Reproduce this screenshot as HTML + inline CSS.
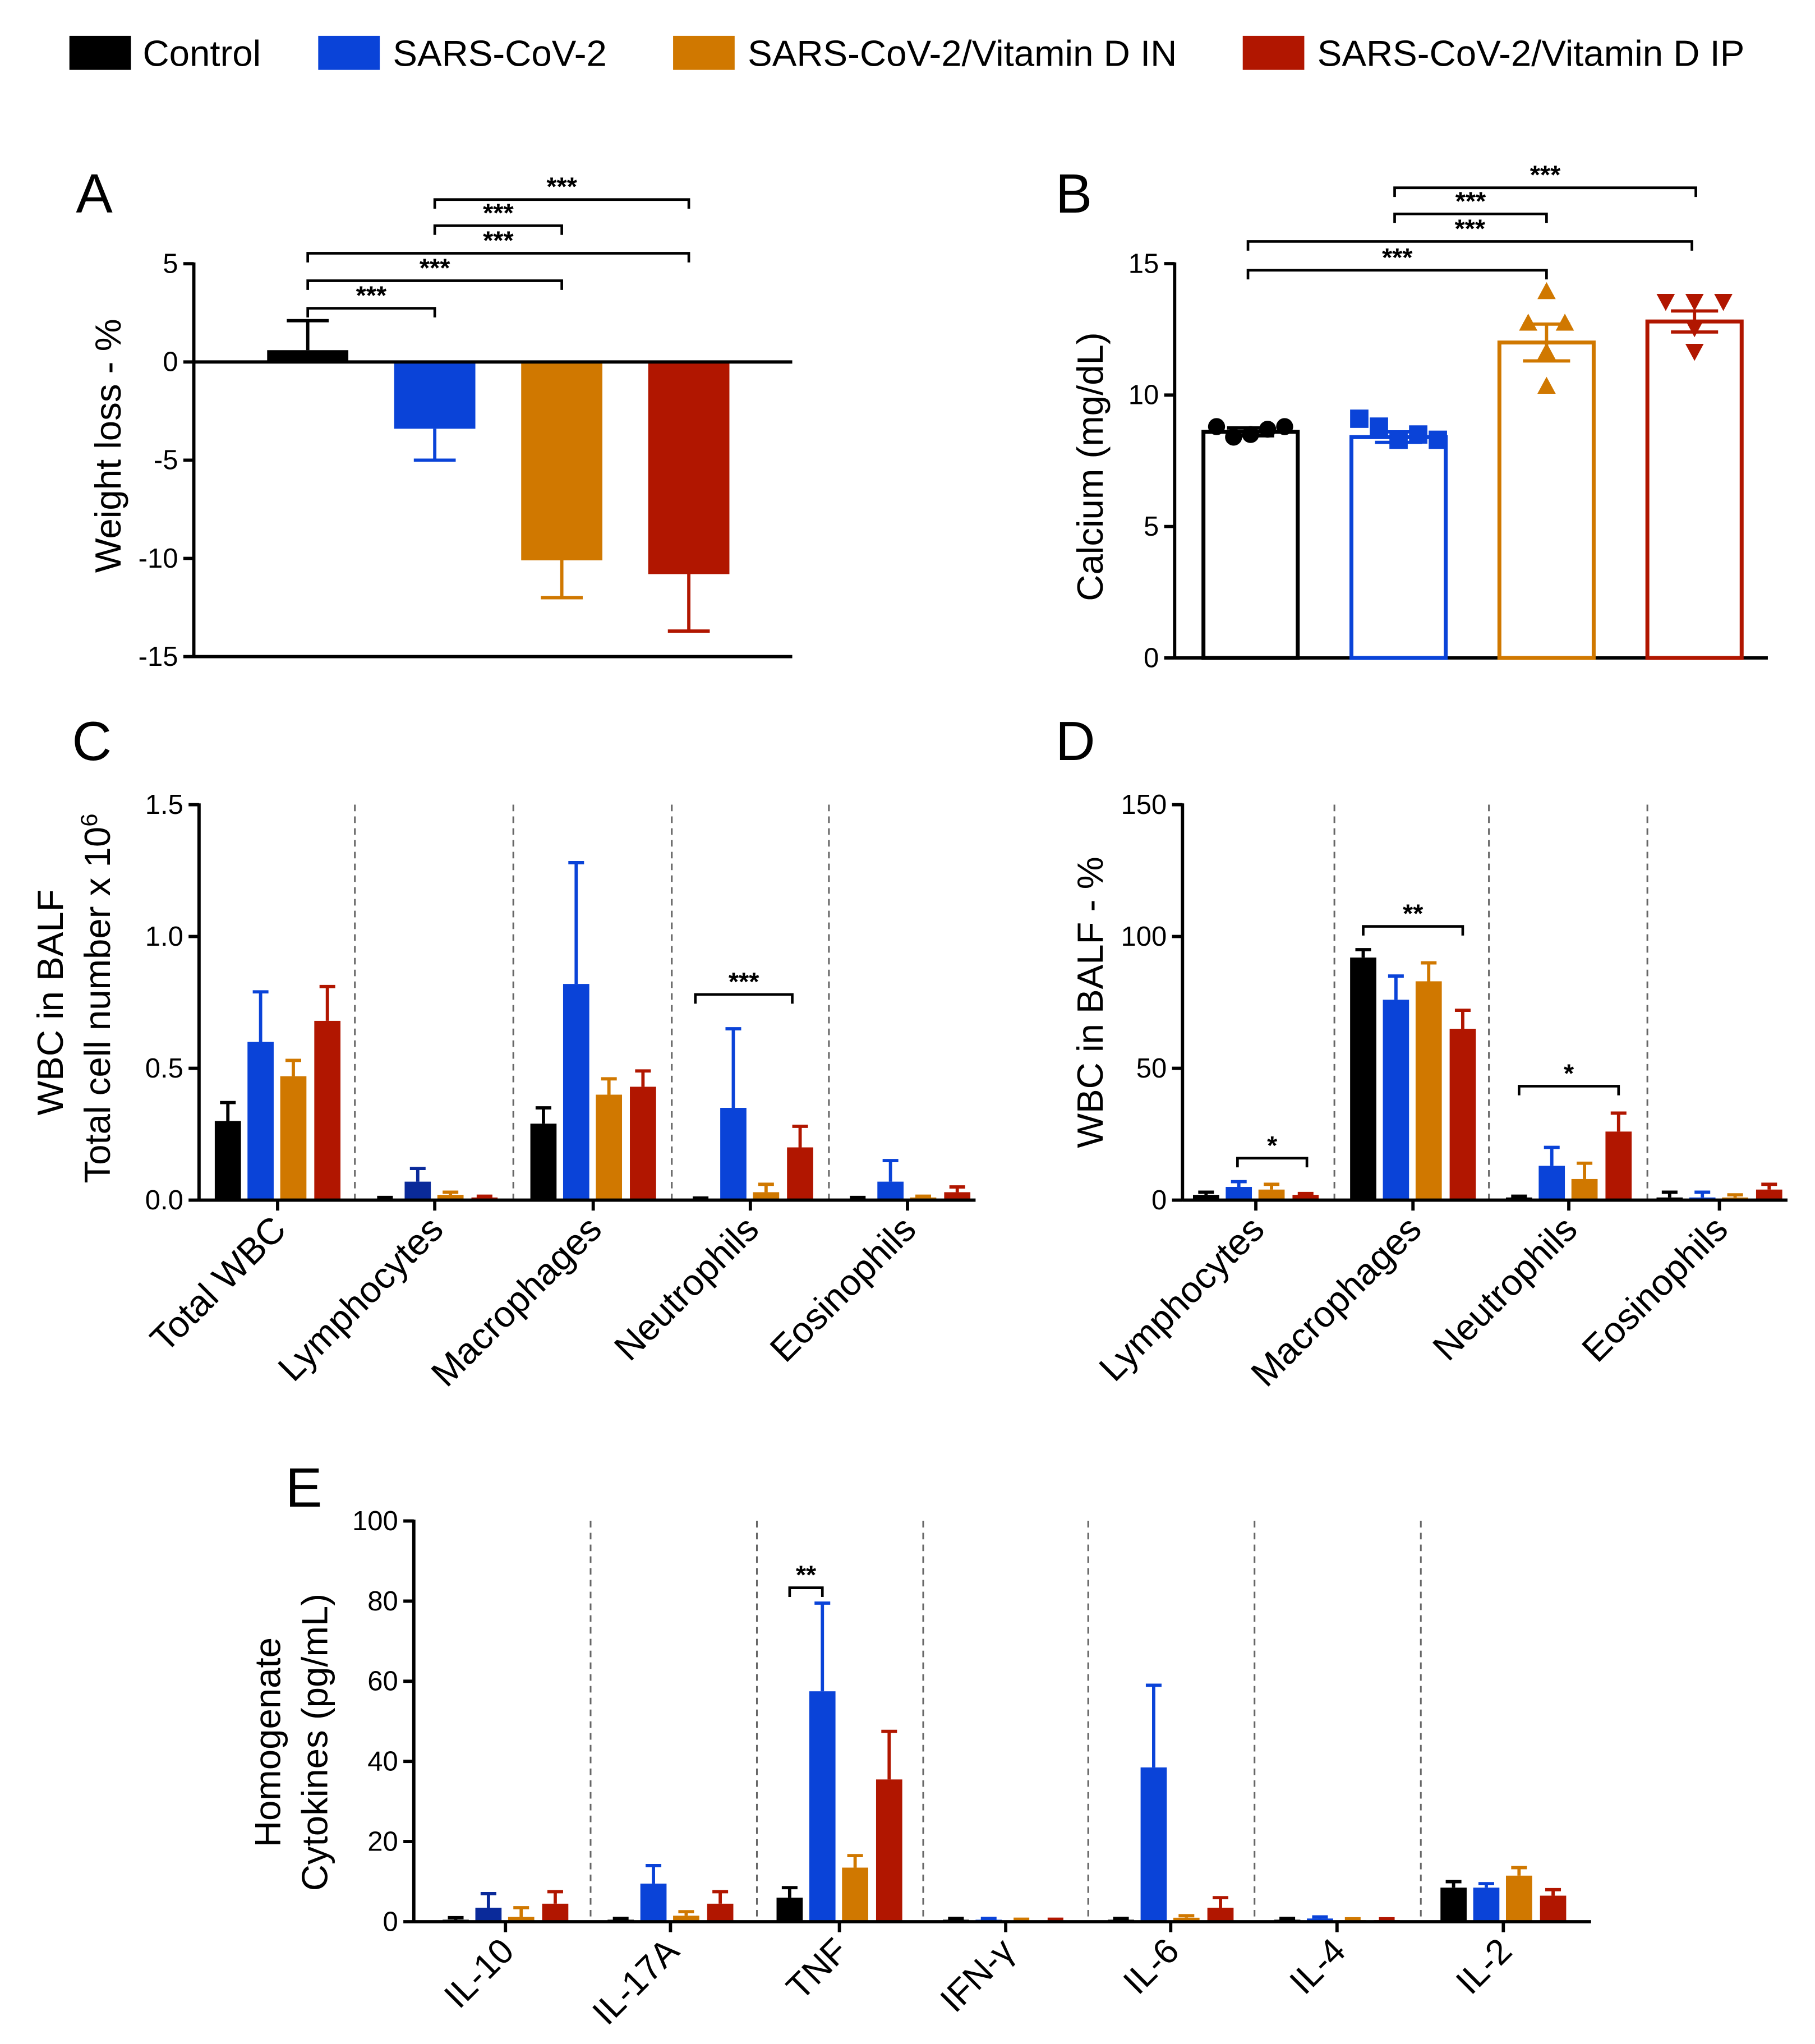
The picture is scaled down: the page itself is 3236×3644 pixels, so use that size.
<!DOCTYPE html>
<html><head><meta charset="utf-8"><style>
html,body{margin:0;padding:0;background:#fff}
svg{display:block}
text{font-family:"Liberation Sans",Arial,sans-serif}
</style></head><body>
<svg id="fig" xmlns="http://www.w3.org/2000/svg" width="3236" height="3644" viewBox="0 0 1386 1560">
<rect width="1386" height="1560" fill="#fff"/>
<g>
 <g><rect x="53" y="27" width="47" height="26" fill="#000"/><text x="109" y="50" font-size="28">Control</text></g>
 <g><rect x="243" y="27" width="47" height="26" fill="#0a43d8"/><text x="300" y="50" font-size="28">SARS-CoV-2</text></g>
 <g><rect x="514" y="27" width="47" height="26" fill="#d07800"/><text x="571" y="50" font-size="28">SARS-CoV-2/Vitamin D IN</text></g>
 <g><rect x="949" y="27" width="47" height="26" fill="#b11600"/><text x="1006" y="50" font-size="28">SARS-CoV-2/Vitamin D IP</text></g>
</g>
</svg>
<script>
// ===== Data =====
const groups = ['Control','SARS-CoV-2','SARS-CoV-2/Vitamin D IN','SARS-CoV-2/Vitamin D IP'];
// Panel A
const aMeans = [0.6,-3.4,-10.1,-10.8];
const aErr = [2.1,-5.0,-12.0,-13.7];
const aTicks = [5,0,-5,-10,-15];
// Panel B
const bMeans = [8.6,8.4,12.0,12.8];
const bSem = [0.15,0.2,0.7,0.4];
const bPoints = [[8.8,8.4,8.5,8.7,8.8],[9.1,8.8,8.3,8.5,8.3],[13.9,12.7,12.7,11.6,10.3],[13.6,13.6,13.6,12.6,11.7]];
const bTicks = [0,5,10,15];
// Panel C
const cCats = ['Total  WBC','Lymphocytes','Macrophages','Neutrophils','Eosinophils'];
const cMeans = [[0.30,0.60,0.47,0.68],[0.005,0.07,0.02,0.01],[0.29,0.82,0.40,0.43],[0.003,0.35,0.03,0.20],[0.005,0.07,0.01,0.03]];
const cErr = [[0.37,0.79,0.53,0.81],[0.01,0.12,0.03,0.01],[0.35,1.28,0.46,0.49],[0.003,0.65,0.06,0.28],[0.01,0.15,0.01,0.05]];
const cTicks = [0,0.5,1.0,1.5];
const cTickLabels = ['0.0','0.5','1.0','1.5'];
// Panel D
const dCats = ['Lymphocytes','Macrophages','Neutrophils','Eosinophils'];
const dMeans = [[2,5,4,2],[92,76,83,65],[1,13,8,26],[1,1,1,4]];
const dErr = [[3,7,6,2],[95,85,90,72],[1,20,14,33],[3,3,2,6]];
const dTicks = [0,50,100,150];
// Panel E
const eCats = ['IL-10','IL-17A','TNF','IFN-γ','IL-6','IL-4','IL-2'];
const eMeans = [[0.5,3.5,1.2,4.5],[0.5,9.5,1.5,4.5],[6,57.5,13.5,35.5],[0.5,0.5,0.3,0.3],[0.5,38.5,1,3.5],[0.5,0.8,0.4,0.4],[8.5,8.5,11.5,6.5]];
const eErr = [[1,7,3.5,7.5],[0.5,14,2.5,7.5],[8.5,79.5,16.5,47.5],[0.5,0.5,0.3,0.3],[0.5,59,1.5,6],[0.5,1.2,0.4,0.4],[10,9.5,13.5,8]];
const eTicks = [0,20,40,60,80,100];

const colors = ['#000000','#0a43d8','#d07800','#b11600'];
const darkBlue = '#0a2a9a';
const NS='http://www.w3.org/2000/svg';
const svg=document.getElementById('fig');
function mk(tag,attrs,parent){const e=document.createElementNS(NS,tag);for(const k in attrs)e.setAttribute(k,attrs[k]);(parent||svg).appendChild(e);return e;}
function txt(x,y,s,size,attrs,parent){const t=mk('text',Object.assign({x:x,y:y,'font-size':size},attrs||{}),parent);t.textContent=s;return t;}
function line(x1,y1,x2,y2,parent,w,col,dash){const a={x1:x1,y1:y1,x2:x2,y2:y2,stroke:col||'#000','stroke-width':w||2.5};if(dash)a['stroke-dasharray']=dash;return mk('line',a,parent);}
function panel(name){const g=mk('g',{});return g;}
function bracket(g,x1,x2,y,stars,name){const b=mk('g',{},g);
 mk('path',{d:`M${x1} ${y+7}V${y}H${x2}V${y+7}`,fill:'none',stroke:'#000','stroke-width':2},b);
 txt((x1+x2)/2,y-3,stars,20,{'text-anchor':'middle','font-weight':'bold'},b);}
function yAxis(g,x,ys,labels,fs){ys.forEach((y,i)=>{line(x-8,y,x,y,g,2.5);const t=txt(x-12,y+7,labels[i],fs||21,{'text-anchor':'end'},g);});}

// ===== Panel A =====
(function(){const g=panel('panel-a');
 const y0=276, s=15; const Y=v=>y0-v*s; const xs=[235,332,429,526]; const bw=62;
 txt(58,162,'A',42,{},g);
 line(148,Y(5)-1,148,Y(-15)+1,g,2.5); line(148,Y(-15),605,Y(-15),g,2.5);
 yAxis(g,148,aTicks.map(Y),aTicks.map(String));
 aMeans.forEach((m,i)=>{const top=Math.min(Y(0),Y(m)),h=Math.abs(Y(m)-Y(0));
  const r=mk('rect',{x:xs[i]-bw/2,y:top,width:bw,height:h,fill:colors[i]},g);
  line(xs[i],Y(m),xs[i],Y(aErr[i]),g,2.5,colors[i]);line(xs[i]-16,Y(aErr[i]),xs[i]+16,Y(aErr[i]),g,2.5,colors[i]);});
 line(148,Y(0),605,Y(0),g,2.5);
 const t=txt(0,0,'Weight loss - %',28,{'text-anchor':'middle',transform:'translate(92,340) rotate(-90)'},g);
 bracket(g,235,332,235,'***','sig-a-1');bracket(g,235,429,214,'***','sig-a-2');bracket(g,235,526,193,'***','sig-a-3');bracket(g,332,429,172,'***','sig-a-4');bracket(g,332,526,152,'***','sig-a-5');
})();

// ===== Panel B =====
(function(){const g=panel('panel-b');
 const y0=502, s=20.07; const Y=v=>y0-v*s; const xs=[955,1068,1181,1294]; const bw=72;
 const jitter=[[-26,-13,0,13,26],[-30,-15,0,15,30],[0,-14,14,0,0],[-22,0,22,0,0]];
 txt(806,162,'B',42,{},g);
 line(897,Y(15)-1,897,y0+1,g,2.5); line(897,y0,1350,y0,g,2.5);
 yAxis(g,897,bTicks.map(Y),bTicks.map(String));
 bMeans.forEach((m,i)=>{const r=mk('rect',{x:xs[i]-bw/2,y:Y(m),width:bw,height:y0-Y(m),fill:'none',stroke:colors[i],'stroke-width':3},g);
  line(xs[i],Y(m-bSem[i]),xs[i],Y(m+bSem[i]),g,2.5,colors[i]);
  [m-bSem[i],m+bSem[i]].forEach(v=>line(xs[i]-18,Y(v),xs[i]+18,Y(v),g,2.5,colors[i]));
  line(xs[i]-24,Y(m),xs[i]+24,Y(m),g,2.5,colors[i]);
  bPoints[i].forEach((v,j)=>{const py=Y(v);let p;const cx=xs[i]+jitter[i][j];
   if(i==0)p=mk('circle',{cx:cx,cy:py,r:6.5,fill:colors[0]},g);
   else if(i==1)p=mk('rect',{x:cx-7,y:py-7,width:14,height:14,fill:colors[1]},g);
   else if(i==2)p=mk('path',{d:`M${cx} ${py-8}L${cx+7} ${py+5}L${cx-7} ${py+5}Z`,fill:colors[2]},g);
   else p=mk('path',{d:`M${cx} ${py+8}L${cx+7} ${py-5}L${cx-7} ${py-5}Z`,fill:colors[3]},g);
   });});
 const t=txt(0,0,'Calcium (mg/dL)',28,{'text-anchor':'middle',transform:'translate(842,356) rotate(-90)'},g);
 bracket(g,953,1181,206,'***','sig-b-1');bracket(g,953,1292,184,'***','sig-b-2');bracket(g,1065,1181,163,'***','sig-b-3');bracket(g,1065,1295,143,'***','sig-b-4');
})();

function grouped(g,opt){const {x0,x1,y0,s,cats,means,errs,seps,catLabelFs,dark}=opt;const Y=v=>y0-v*s;
 const offs=[-38,-13,12,38]; const bw=20;
 seps.forEach(sx=>line(sx,opt.ytop,sx,y0,g,1.3,'#666','5,4'));
 cats.forEach((c,ci)=>{const cx=opt.centers[ci];
  means[ci].forEach((m,i)=>{const col=(dark&&dark[0]===ci&&i===1)?darkBlue:colors[i];const bx=cx+offs[i];
   const r=mk('rect',{x:bx-bw/2,y:Y(m),width:bw,height:Math.max(y0-Y(m),1.5),fill:col},g);
   if(errs[ci][i]>m+0.0001){line(bx,Y(m),bx,Y(errs[ci][i]),g,2.5,col);line(bx-6,Y(errs[ci][i]),bx+6,Y(errs[ci][i]),g,2.5,col);}
   else line(bx-6,Y(m)-1,bx+6,Y(m)-1,g,2.5,col);});
  line(cx,y0,cx,y0+8,g,2.5);
  const t=txt(0,0,c,catLabelFs,{'text-anchor':'end',transform:`translate(${cx+8},${y0+24}) rotate(-45)`},g);});
 line(x0,opt.ytop-1,x0,y0+1,g,2.5); line(x0,y0,x1,y0,g,2.5);
}

// ===== Panel C =====
(function(){const g=panel('panel-c');
 const y0=916,s=201.3;const Y=v=>y0-v*s;
 txt(55,580,'C',42,{},g);
 grouped(g,{x0:152,x1:745,y0:y0,s:s,ytop:Y(1.5),cats:cCats,means:cMeans,errs:cErr,seps:[271,392,513,633],centers:[212,332,453,573,693],catLabelFs:28,dark:[1]});
 yAxis(g,152,cTicks.map(Y),cTickLabels);
 const t1=txt(0,0,'WBC in BALF',28,{'text-anchor':'middle',transform:'translate(48,765) rotate(-90)'},g);
 const t2=mk('text',{'font-size':28,'text-anchor':'middle',transform:'translate(84,762) rotate(-90)'},g);t2.innerHTML='Total cell number x 10<tspan dy="-10" font-size="18">6</tspan>';
 bracket(g,531,605,759,'***','sig-c-neutrophils');
})();

// ===== Panel D =====
(function(){const g=panel('panel-d');
 const y0=916,s=2.013;const Y=v=>y0-v*s;
 txt(806,580,'D',42,{},g);
 grouped(g,{x0:903,x1:1365,y0:y0,s:s,ytop:Y(150),cats:dCats,means:dMeans,errs:dErr,seps:[1019,1137,1258],centers:[959,1079,1198,1313],catLabelFs:28});
 yAxis(g,903,dTicks.map(Y),dTicks.map(String));
 const t=txt(0,0,'WBC in BALF - %',28,{'text-anchor':'middle',transform:'translate(842,765) rotate(-90)'},g);
 bracket(g,945,998,884,'*','sig-d-lymphocytes');bracket(g,1041,1117,707,'**','sig-d-macrophages');bracket(g,1160,1236,829,'*','sig-d-neutrophils');
})();

// ===== Panel E =====
(function(){const g=panel('panel-e');
 const y0=1467,s=3.06;const Y=v=>y0-v*s;
 txt(218,1150,'E',42,{},g);
 grouped(g,{x0:316,x1:1215,y0:y0,s:s,ytop:Y(100),cats:eCats,means:eMeans,errs:eErr,seps:[451,578,705,831,958,1085],centers:[386,512,641,768,894,1021,1148],catLabelFs:27,dark:[0]});
 yAxis(g,316,eTicks.map(Y),eTicks.map(String));
 const t1=txt(0,0,'Homogenate',28,{'text-anchor':'middle',transform:'translate(214,1330) rotate(-90)'},g);
 const t2=txt(0,0,'Cytokines (pg/mL)',28,{'text-anchor':'middle',transform:'translate(250,1330) rotate(-90)'},g);
 bracket(g,603,628,1212,'**','sig-e-tnf');
})();
</script>
</body></html>
